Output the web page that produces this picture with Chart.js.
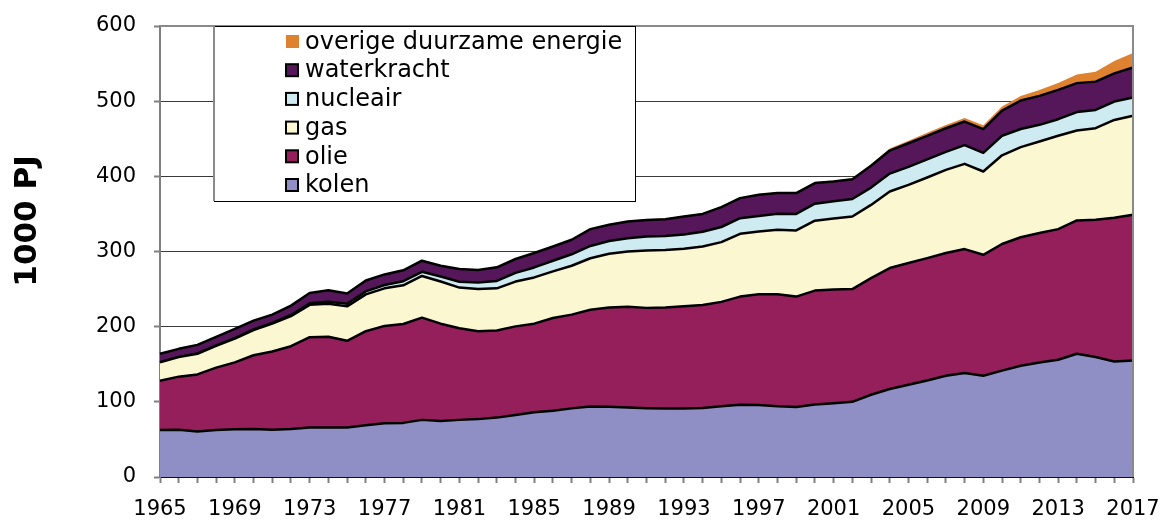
<!DOCTYPE html>
<html><head><meta charset="utf-8">
<script src="https://cdn.jsdelivr.net/npm/chart.js@4.4.1/dist/chart.umd.min.js"></script>
<style>html,body{margin:0;padding:0;background:#fff}#wrap{width:1163px;height:520px;position:relative}</style>
</head><body><div id="wrap"><canvas id="c" width="1163" height="520"></canvas></div>
<script>
const years = ['1965','1966','1967','1968','1969','1970','1971','1972','1973','1974','1975','1976','1977','1978','1979','1980','1981','1982','1983','1984','1985','1986','1987','1988','1989','1990','1991','1992','1993','1994','1995','1996','1997','1998','1999','2000','2001','2002','2003','2004','2005','2006','2007','2008','2009','2010','2011','2012','2013','2014','2015','2016','2017'];
const xTickLabels = ['1965','1969','1973','1977','1981','1985','1989','1993','1997','2001','2005','2009','2013','2017'];
const yTickValues = [0,100,200,300,400,500,600];

const kolen = [62.5,63,60.5,62.5,63.5,64,63,64,66,66, 66,69,71.4,72,76,74.5,76,77,79,82.5, 86,88,91.3,93.8,93.5,92.5,91.5,91,91.2,91.7, 94,96,95.7,94,93,96.5,98,100,109.4,117, 122.7,128.5,134.7,138.3,134.7,141.5,148,152.4,156,164, 159.6,153.7,155];
const olie = [65.5,70.5,76,83,89,98,104,110,120,120.5, 115.2,125,129.6,131.5,136,129.5,122,117,116,117.9, 118,123.5,124.7,128.7,132.1,134,133.5,134.5,135.8,137, 139,144,147.3,149,147,151.5,151.5,150,155.2,161, 161.9,162.7,163.2,164.9,160.9,168.5,171,172.1,173.8,177.3, 182.6,191.3,193.8];
const gas = [24.5,26,27.5,29,31.5,33.5,37,40,43,44, 45.8,49,50,51.5,55.5,56,54,56,56,59.6, 61.5,62,65,68.5,71.4,73.5,76.4,76.5,76.6,78, 79.5,83.5,83.6,85.9,88,93,94.5,96.5,97.4,101.8, 104.1,107.2,110.7,113.4,110.8,118,119.8,121.8,124.1,119.7, 121.8,130,131.7];
const nucleair = [0.2,0.3,0.4,0.5,0.6,0.8,1,1.5,2,2.5, 3.5,4,4.5,5.5,5.5,6.7,7.8,8.6,9.8,11.6, 13.3,14.2,15.3,16.4,16.9,17.7,18.4,18.6,19.1,19.5, 20.1,20.8,20.7,21.2,22,22.6,23,23.3,23,23.9, 23.9,24.2,24,24.9,24.9,26,24.2,22.2,22.1,24.5, 24.4,24.5,24.3];
const waterkracht = [11.3,10.7,11.4,11.5,12.4,11.7,11,12.5,13.8,15.4, 13.5,14.5,14,14.5,14.8,14.3,16.9,16.9,18.2,18.4, 19.2,19,19.3,22.4,21.6,22.3,22.2,22.4,23.8,23.8, 26.4,26.7,28.1,27.6,27.7,27.4,26,26.2,29,30.6, 31.4,31.3,31.4,31.4,31.5,33.5,37.8,38.5,39,38.5, 37.6,37.5,39.9];
const overig = [0.2,0.2,0.2,0.2,0.2,0.3,0.3,0.3,0.3,0.3, 0.3,0.3,0.3,0.4,0.4,0.4,0.4,0.5,0.5,0.5, 0.6,0.6,0.6,0.7,0.7,0.8,0.8,0.8,0.9,0.9, 1,1,1,1.1,1.1,1.3,1.4,1.6,2,2.7, 3.5,4,4.2,4.7,5.2,5.3,6,7.8,9.2,11.5, 13.2,16.5,19.3];

const seriesNames = ['kolen','olie','gas','nucleair','waterkracht','overige duurzame energie'];
const seriesColors = ['#8F8FC5','#951F5B','#FBF8D1','#CEEBF1','#55175A','#DE8230'];
const seriesData = [kolen, olie, gas, nucleair, waterkracht, overig];

const datasets = seriesData.map((d, i) => ({
  label: seriesNames[i],
  data: d,
  backgroundColor: seriesColors[i],
  borderColor: i === 5 ? seriesColors[i] : '#000000',
  borderWidth: i === 5 ? 0 : 2.5,
  fill: i === 0 ? 'origin' : '-1',
  pointRadius: 0,
  pointHoverRadius: 0,
  tension: 0,
  borderJoinStyle: 'round'
}));

const noPad = (s) => { s.paddingTop = 0; s.paddingBottom = 0; s.paddingLeft = 0; s.paddingRight = 0; };

const decor = {
  id: 'decor',
  afterDatasetsDraw(chart) {
    const {ctx, chartArea: a} = chart;
    ctx.save();
    ctx.strokeStyle = '#8a8a8a';
    ctx.lineWidth = 2;
    ctx.beginPath();
    ctx.moveTo(a.left, a.top); ctx.lineTo(a.right, a.top); ctx.lineTo(a.right, a.bottom);
    ctx.stroke();
    ctx.restore();
  },
  afterDraw(chart) {
    const {ctx, chartArea: a} = chart;
    ctx.save();
    // legend box
    const bx = a.left + 54, by = a.top, bw = 421, bh = 175;
    ctx.fillStyle = '#ffffff';
    ctx.fillRect(bx, by, bw, bh);
    ctx.strokeStyle = '#000000';
    ctx.lineWidth = 1;
    ctx.strokeRect(bx + 0.5, by + 0.5, bw, bh);
    ctx.strokeStyle = '#8a8a8a';
    ctx.lineWidth = 2;
    ctx.beginPath(); ctx.moveTo(bx, by); ctx.lineTo(bx, by + bh); ctx.stroke();
    ctx.font = '24px "DejaVu Sans"';
    ctx.textBaseline = 'middle';
    ctx.fillStyle = '#000';
    for (let k = 0; k < 6; k++) {
      const i = 5 - k;
      const cy = by + 15.5 + k * 28.7;
      ctx.fillStyle = seriesColors[i];
      if (i === 5) {
        ctx.fillRect(bx + 72, cy - 6.5, 13, 13);
      } else {
        ctx.fillRect(bx + 72, cy - 6, 12, 12);
        ctx.strokeStyle = '#000';
        ctx.lineWidth = 2;
        ctx.strokeRect(bx + 72, cy - 6, 12, 12);
      }
      ctx.fillStyle = '#000';
      ctx.fillText(seriesNames[i], bx + 91, cy + 1);
    }
    // y title
    ctx.translate(28, 221);
    ctx.rotate(-Math.PI / 2);
    ctx.font = 'bold 31px "DejaVu Sans"';
    ctx.textAlign = 'center';
    ctx.textBaseline = 'middle';
    ctx.fillText('1000 PJ', 0, 0);
    ctx.restore();
  }
};

new Chart(document.getElementById('c'), {
  type: 'line',
  data: { labels: years, datasets },
  options: {
    responsive: false,
    animation: false,
    devicePixelRatio: 1,
    layout: { padding: { left: 0, right: 30, top: 26, bottom: 0 } },
    plugins: { legend: { display: false }, tooltip: { enabled: false } },
    scales: {
      x: {
        type: 'category',
        offset: false,
        grid: { display: true, drawOnChartArea: false, drawTicks: true, tickLength: 6, tickColor: '#808080', tickWidth: 2 },
        border: { display: true, color: '#111', width: 2 },
        ticks: {
          autoSkip: false, maxRotation: 0, minRotation: 0, padding: 14,
          color: '#000', font: { family: '"DejaVu Sans"', size: 21 },
          callback: function (v, idx) { const l = years[idx]; return xTickLabels.includes(l) ? l : ''; }
        },
        afterFit: (s) => { s.height = 43; noPad(s); }
      },
      y: {
        stacked: true,
        min: 0, max: 600,
        afterBuildTicks: (s) => { s.ticks = yTickValues.map(v => ({ value: v })); },
        grid: { color: '#3a3a3a', lineWidth: 1, tickLength: 6, tickColor: '#808080', tickWidth: 2 },
        border: { display: true, color: '#808080', width: 2 },
        ticks: { padding: 18, color: '#000', font: { family: '"DejaVu Sans"', size: 21 } },
        afterFit: (s) => { s.width = 160; noPad(s); }
      }
    }
  },
  plugins: [decor]
});
</script></body></html>
